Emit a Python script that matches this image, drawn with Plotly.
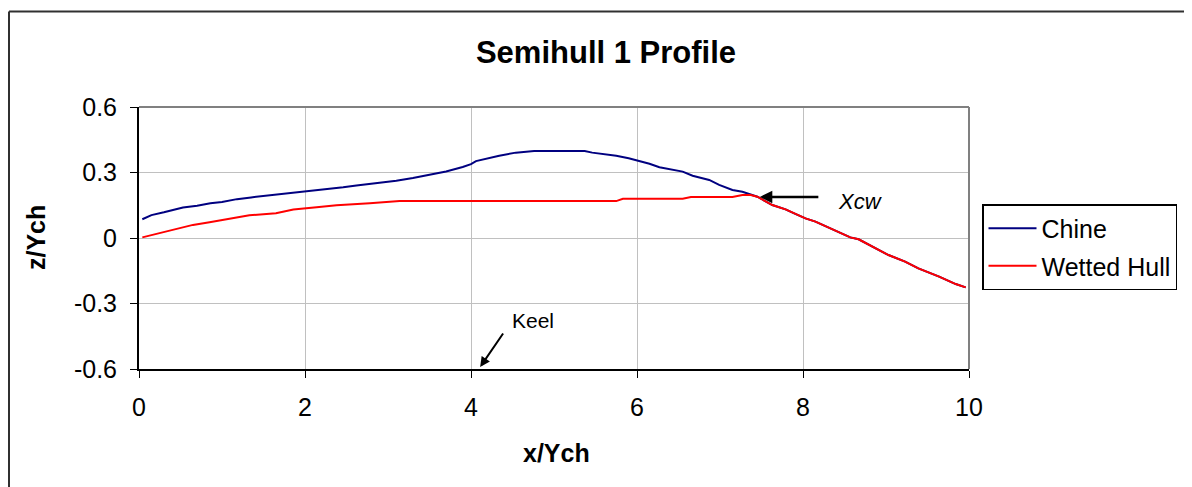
import plotly.graph_objects as go

# ---- data ----
chine_x = [0.04, 0.15, 0.3, 0.53, 0.7, 0.86, 1.0, 1.18, 1.35, 1.54, 1.7, 1.86, 2.0, 2.14, 2.3,
           2.46, 2.62, 2.78, 2.94, 3.1, 3.3, 3.5, 3.7, 3.9, 4.0, 4.06, 4.2, 4.34, 4.54, 4.76, 5.0,
           5.2, 5.37, 5.46, 5.6, 5.75, 5.9, 6.01, 6.15, 6.27, 6.42, 6.55, 6.67, 6.8, 6.87, 6.99,
           7.1, 7.15, 7.27, 7.45, 7.63, 7.79, 7.9, 8.03, 8.15, 8.35, 8.57, 8.67, 8.83, 9.03,
           9.23, 9.39, 9.64, 9.84, 9.96]
chine_z = [0.086, 0.105, 0.118, 0.14, 0.148, 0.159, 0.165, 0.178, 0.186, 0.194, 0.198, 0.205,
           0.21, 0.217, 0.224, 0.232, 0.24, 0.247, 0.255, 0.262, 0.275, 0.289, 0.305, 0.325,
           0.338, 0.352, 0.365, 0.377, 0.391, 0.398, 0.398, 0.398, 0.398, 0.391, 0.385, 0.377,
           0.365, 0.354, 0.34, 0.324, 0.312, 0.304, 0.285, 0.272, 0.266, 0.243, 0.225, 0.22,
           0.212, 0.189, 0.151, 0.131, 0.112, 0.09, 0.075, 0.04, 0.003, -0.006, -0.037, -0.078,
           -0.108, -0.139, -0.177, -0.211, -0.226]

hull_x = [0.04, 0.2, 0.41, 0.65, 0.85, 1.05, 1.33, 1.65, 1.86, 2.14, 2.38, 2.78, 3.14, 4.0,
          5.0, 5.75, 5.83, 6.55, 6.65, 7.15, 7.27, 7.37, 7.45, 7.63, 7.79, 7.9, 8.03, 8.15,
          8.35, 8.57, 8.67, 8.83, 9.03, 9.23, 9.39, 9.64, 9.84, 9.96]
hull_z = [0.003, 0.018, 0.037, 0.06, 0.072, 0.086, 0.104, 0.113, 0.131, 0.141, 0.15, 0.159,
          0.169, 0.169, 0.169, 0.169, 0.18, 0.18, 0.188, 0.188, 0.197, 0.197, 0.189, 0.151,
          0.131, 0.112, 0.09, 0.075, 0.04, 0.003, -0.006, -0.037, -0.078, -0.108, -0.139,
          -0.177, -0.211, -0.226]

x_ticks = [0, 2, 4, 6, 8, 10]
y_ticks = [0.6, 0.3, 0, -0.3, -0.6]
y_tick_text = ["0.6", "0.3", "0", "-0.3", "-0.6"]

FONT = "Liberation Sans, Arial, sans-serif"

fig = go.Figure()
fig.add_trace(go.Scatter(x=chine_x, y=chine_z, mode="lines", name="Chine",
                         line=dict(color="#000080", width=2), legendgroup="a"))
fig.add_trace(go.Scatter(x=hull_x, y=hull_z, mode="lines", name="Wetted Hull",
                         line=dict(color="#ff0000", width=2), legendgroup="b"))

# page is offset by the 8px body margin; work in page pixel coords and convert
OFF = 8
W, H = 1192 - OFF, 487 - OFF
L, R, T, B = 139 - OFF, 969 - OFF, 107 - OFF, 369 - OFF
pw, ph = R - L, B - T

def px(xp):
    return (xp - OFF - L) / pw

def py(yp):
    return (B - (yp - OFF)) / ph

shapes = [
    # outer chart border (left + top, running off the canvas)
    dict(type="line", xref="paper", yref="paper", x0=px(9), x1=px(9), y0=py(11.5), y1=py(500),
         line=dict(color="#303030", width=2)),
    dict(type="line", xref="paper", yref="paper", x0=px(9), x1=px(1210), y0=py(11.5), y1=py(11.5),
         line=dict(color="#303030", width=2)),
    # plot area top/right border
    dict(type="line", xref="paper", yref="paper", x0=0, x1=1, y0=1, y1=1,
         line=dict(color="#808080", width=2)),
    dict(type="line", xref="paper", yref="paper", x0=1, x1=1, y0=0, y1=1,
         line=dict(color="#808080", width=2)),
]

annotations = [
    dict(x=7.48, y=0.188, xref="x", yref="y", text="", showarrow=True, ax=60, ay=0,
         arrowhead=2, arrowsize=1, arrowwidth=2.5, arrowcolor="black", standoff=0),
    dict(x=px(836), y=py(201), xref="paper", yref="paper", text="<i>Xcw</i>", showarrow=False,
         xanchor="left", yanchor="middle", font=dict(family=FONT, size=22, color="black")),
    dict(x=4.11, y=-0.591, xref="x", yref="y", text="", showarrow=True, ax=24, ay=-35,
         arrowhead=2, arrowsize=1, arrowwidth=2, arrowcolor="black", standoff=0),
    dict(x=px(510), y=py(320), xref="paper", yref="paper", text="Keel", showarrow=False,
         xanchor="left", yanchor="middle", font=dict(family=FONT, size=21, color="black")),
    dict(x=px(36), y=py(238), xref="paper", yref="paper", text="<b>z/Ych</b>", showarrow=False,
         textangle=-90, xanchor="center", yanchor="middle",
         font=dict(family=FONT, size=25, color="black")),
    dict(x=px(556), y=py(453), xref="paper", yref="paper", text="<b>x/Ych</b>", showarrow=False,
         xanchor="center", yanchor="middle", font=dict(family=FONT, size=25, color="black")),
]

fig.update_layout(
    width=W, height=H,
    margin=dict(l=L, r=W - R, t=T, b=H - B, pad=0, autoexpand=False),
    paper_bgcolor="white", plot_bgcolor="white",
    font=dict(family=FONT, color="black", size=25),
    title=dict(text="<b>Semihull 1 Profile</b>", x=px(606), xref="paper", xanchor="center",
               y=1 - (52 - OFF) / H, yanchor="middle",
               font=dict(family=FONT, size=31, color="black")),
    xaxis=dict(range=[0, 10], tickvals=x_ticks, ticks="outside", ticklen=7, tickwidth=1,
               tickcolor="black", showline=True, linecolor="black", linewidth=2,
               showgrid=True, gridcolor="#c0c0c0", gridwidth=1, zeroline=False,
               tickfont=dict(family=FONT, size=25), ticklabelstandoff=8),
    yaxis=dict(range=[-0.6, 0.6], tickvals=y_ticks, ticktext=y_tick_text, ticks="outside",
               ticklen=7, tickwidth=1, tickcolor="black", showline=True, linecolor="black",
               linewidth=2, showgrid=True, gridcolor="#c0c0c0", gridwidth=1, zeroline=False,
               tickfont=dict(family=FONT, size=25), ticklabelstandoff=8),
    legend=dict(x=px(982), y=py(204), xref="paper", yref="paper", xanchor="left",
                yanchor="top", bordercolor="black", borderwidth=1.5, bgcolor="white",
                font=dict(family=FONT, size=25, color="black"), tracegroupgap=2,
                itemwidth=48),
    shapes=shapes, annotations=annotations, showlegend=True,
)

fig.write_html("out.html")
